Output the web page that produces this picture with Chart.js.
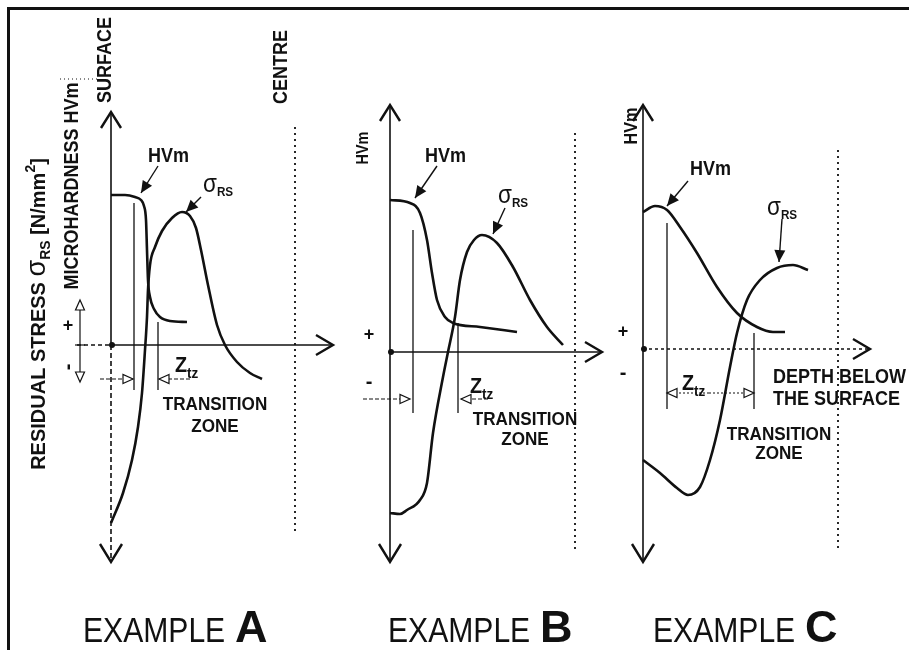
<!DOCTYPE html>
<html>
<head>
<meta charset="utf-8">
<title>Residual stress and microhardness below the surface</title>
<script src="https://cdn.jsdelivr.net/npm/chart.js@4.4.1/dist/chart.umd.min.js"></script>
<style>
    html, body { margin: 0; padding: 0; background: #fff; }
    #page { position: relative; width: 909px; height: 650px; overflow: hidden; background: #fff; }
    #frame { position: absolute; left: 7px; top: 7px; width: 920px; height: 660px;
             border-top: 3px solid #111; border-left: 3px solid #111; }
    canvas { position: absolute; left: 0; top: 0; }
</style>
</head>
<body>
<div id="page">
    <div id="frame"></div>
    <canvas id="chartA" width="909" height="650"></canvas>
    <canvas id="chartB" width="909" height="650"></canvas>
    <canvas id="chartC" width="909" height="650"></canvas>
</div>
<script>
// ── Data (arbitrary units: depth below the surface vs HVm / σRS) ──────────────
// Example A
const depthHvA = [0, 7, 12, 15, 16.5, 17.5, 18, 18.5, 19.5, 21.5, 24.5, 29.5, 38];
const hvA      = [75, 75, 74, 72.5, 69.5, 62.5, 47.5, 32.5, 24, 18, 14, 12, 11.5];
const depthRsA = [0, 6, 10.5, 13.5, 15.5, 17, 18, 18.5, 19.5, 22, 25.5, 30.5, 35.5, 39.5, 42.5, 45, 48.5, 53, 57, 63, 69.5, 75.5];
const rsA      = [-89, -74, -57.5, -41, -24, -2.5, 14, 27.5, 40, 49, 57, 63.5, 66.5, 64.5, 58.5, 47.5, 30, 10, 0, -8.5, -14, -17];

// Example B
const depthHvB = [0, 10, 15, 18.5, 21, 23.5, 27.5, 31.5, 45, 63.5];
const hvB      = [76, 74.5, 69.5, 56, 39.5, 26, 17.5, 14.5, 12.5, 10];
const depthRsB = [0, 5, 8.5, 15, 18.5, 21.5, 26.5, 29, 32.5, 35, 38.5, 42, 46, 53.5, 61.5, 70, 78.5, 86.5];
const rsB      = [-80.5, -81, -79, -74, -65.5, -40.5, -12.5, 0, 17.5, 36, 50, 56, 58.5, 54.5, 42.5, 26, 12.5, 3.5];

// Example C
const depthHvC = [0, 6, 12, 18.5, 27, 37, 47, 57, 65, 71];
const hvC      = [68.5, 71.5, 69.5, 61, 48, 31, 18, 11, 8.5, 8.5];
const depthRsC = [0, 8.5, 17, 22.5, 28.5, 33.5, 38.5, 43.5, 47, 52, 58.5, 67, 75, 82.5];
const rsC      = [-55.5, -62, -69.5, -73, -69, -55.5, -35.5, -9, 8, 24.5, 34.5, 40.5, 42, 39.5];

// transition zone limits and centre of the part (depth)
const zoneA = [11.5, 23.5];
const zoneB = [11.5, 34];
const zoneC = [12, 55.5];
const centreDepth = [92, 92.5, 97.5];

// ── Style ─────────────────────────────────────────────────────────────────────
const INK  = '#111';
const FONT = '"Liberation Sans", Arial, sans-serif';
const bold = n => `bold ${n}px ${FONT}`;
const reg  = n => `${n}px ${FONT}`;
const UP   = -Math.PI / 2;

// ── Panel layout (positions only) ─────────────────────────────────────────────
const panels = [
    {
        canvas: 'chartA', letter: 'A', captionX: 83,
        pad: { left: 111, top: 112, right: 576, bottom: 88 },
        x: [0, 111], y: [-108.5, 116.5],
        hv: [depthHvA, hvA], rs: [depthRsA, rsA], zone: zoneA, centre: centreDepth[0],
        axisLeft: -17, xDash: [], lowerDash: [5, 3],
        centreTop: 109, centreBottom: -95,
        markerTop: [71, 11.5], markerBottom: -22.5,
        zoneY: -17, zoneDash: [4, 2], zoneArrows: [{ from: -5.5, to: 11 }, { from: 39.5, to: 24 }],
        hvLabel: [18.5, 91.5], hvArrow: [23.5, 89.5, 15, 76],
        rsLabel: [46, 76.5], rsArrow: [45, 74, 37.5, 66.5],
        zLabel: [32, -13.5], zoneText: [52, -32.5, -43.5],
        signs: { x: -21.5, plus: 9.5, minus: -11, rotMinus: true, arrowX: -15.5, up: 22.5, down: -18.5 }
    },
    {
        canvas: 'chartB', letter: 'B', captionX: 388,
        pad: { left: 390, top: 105, right: 307, bottom: 88 },
        x: [0, 106], y: [-105, 123.5],
        hv: [depthHvB, hvB], rs: [depthRsB, rsB], zone: zoneB, centre: centreDepth[1],
        axisLeft: 0, xDash: [], lowerDash: [],
        centreTop: 109.5, centreBottom: -100.5,
        markerTop: [61, 14.5], markerBottom: -30.5,
        zoneY: -23.5, zoneDash: [4, 2], zoneArrows: [{ from: -13.5, to: 10 }, { from: 49, to: 35.5 }],
        hvLabel: [17.5, 95], hvArrow: [23.5, 93, 12.5, 77],
        rsLabel: [54, 74.5], rsArrow: [57.5, 72, 51.5, 59],
        zLabel: [40, -20.5], zoneText: [67.5, -36.5, -46.5],
        signs: { x: -10.5, plus: 8.5, minus: -15 },
        sideLabel: { text: 'HVm', x: 368, y: 148, size: 16 }
    },
    {
        canvas: 'chartC', letter: 'C', captionX: 653,
        pad: { left: 643, top: 105, right: 39, bottom: 88 },
        x: [0, 113.5], y: [-106.5, 122],
        hv: [depthHvC, hvC], rs: [depthRsC, rsC], zone: zoneC, centre: centreDepth[2],
        axisLeft: 0, xDash: [3, 3], lowerDash: [],
        centreTop: 99.5, centreBottom: -101.5,
        markerTop: [63, 8], markerBottom: -30,
        zoneY: -22, zoneDash: [2, 2], zoneArrows: [{ from: 33, to: 12 }, { from: 33, to: 55.5 }],
        hvLabel: [23.5, 87], hvArrow: [22.5, 84, 12, 71.5],
        rsLabel: [62, 67], rsArrow: [69.5, 65, 68, 43.5],
        zLabel: [19.5, -20.5], zoneText: [68, -45.5, -55],
        depthText: [65, -17, -28],
        signs: { x: -10, plus: 8.5, minus: -12 },
        sideLabel: { text: 'HVm', x: 637, y: 126, size: 18 }
    }
];
const panelById = {};
panels.forEach(p => { panelById[p.canvas] = p; });

// ── Drawing helpers ───────────────────────────────────────────────────────────
function line(ctx, x1, y1, x2, y2, w, dash) {
    ctx.save();
    ctx.lineWidth = w;
    ctx.setLineDash(dash || []);
    ctx.beginPath();
    ctx.moveTo(x1, y1);
    ctx.lineTo(x2, y2);
    ctx.stroke();
    ctx.restore();
}

// head with its tip at (x, y), pointing along ang
function head(ctx, x, y, ang, len, half, mode) {
    const bx = x - Math.cos(ang) * len, by = y - Math.sin(ang) * len;
    const nx = -Math.sin(ang) * half, ny = Math.cos(ang) * half;
    ctx.save();
    ctx.setLineDash([]);
    ctx.beginPath();
    ctx.moveTo(bx + nx, by + ny);
    ctx.lineTo(x, y);
    ctx.lineTo(bx - nx, by - ny);
    if (mode === 'chevron') {
        ctx.lineWidth = 2.4;
        ctx.lineJoin = 'miter';
        ctx.stroke();
    } else if (mode === 'fill') {
        ctx.closePath();
        ctx.fill();
    } else {
        ctx.closePath();
        ctx.lineWidth = 1.2;
        ctx.fillStyle = '#fff';
        ctx.fill();
        ctx.stroke();
    }
    ctx.restore();
}

// text made of runs: [text, font, dy]
function runs(ctx, parts, x, y, opt = {}) {
    ctx.save();
    ctx.translate(x, y);
    if (opt.rotate) ctx.rotate(opt.rotate);
    ctx.scale(opt.sx || 0.9, 1);
    ctx.textAlign = 'left';
    ctx.textBaseline = opt.baseline || 'alphabetic';
    let w = 0;
    parts.forEach(p => { ctx.font = p[1]; w += ctx.measureText(p[0]).width; });
    let cx = opt.align === 'center' ? -w / 2 : 0;
    parts.forEach(p => {
        ctx.font = p[1];
        ctx.fillText(p[0], cx, p[2] || 0);
        cx += ctx.measureText(p[0]).width;
    });
    ctx.restore();
}

// ── Sketch plugin: axes, guides, labels ───────────────────────────────────────
const sketch = {
    id: 'sketch',
    afterDatasetsDraw(chart) {
        const p = panelById[chart.canvas.id];
        const ctx = chart.ctx, area = chart.chartArea;
        const X = v => chart.scales.x.getPixelForValue(v);
        const Y = v => chart.scales.y.getPixelForValue(v);
        const x0 = X(0), y0 = Y(0);

        ctx.save();
        ctx.strokeStyle = INK;
        ctx.fillStyle = INK;

        // axes
        line(ctx, x0, area.top + 1, x0, y0, 1.6);
        line(ctx, x0, y0, x0, area.bottom - 1, 1.6, p.lowerDash);
        if (p.axisLeft < 0) line(ctx, X(p.axisLeft), y0, x0, y0, 1.5, [4, 3]);
        line(ctx, x0, y0, area.right - 1, y0, 1.5, p.xDash);
        head(ctx, x0, area.top, -Math.PI / 2, 16, 10, 'chevron');
        head(ctx, x0, area.bottom, Math.PI / 2, 18, 11, 'chevron');
        head(ctx, area.right, y0, 0, 17, 10, 'chevron');
        ctx.beginPath();
        ctx.arc(x0 + 1, y0, 3, 0, Math.PI * 2);
        ctx.fill();

        // centre of the part
        line(ctx, X(p.centre), Y(p.centreTop), X(p.centre), Y(p.centreBottom), 1.8, [2, 4]);

        // transition zone limits
        p.zone.forEach((z, i) => line(ctx, X(z), Y(p.markerTop[i]), X(z), Y(p.markerBottom), 1.3));
        const zy = Y(p.zoneY);
        p.zoneArrows.forEach(a => {
            line(ctx, X(a.from), zy, X(a.to), zy, 1.2, p.zoneDash);
            head(ctx, X(a.to), zy, a.to > a.from ? 0 : Math.PI, 10, 4.5, 'open');
        });

        // curve pointers
        [p.hvArrow, p.rsArrow].forEach(a => {
            line(ctx, X(a[0]), Y(a[1]), X(a[2]), Y(a[3]), 1.4);
            const ang = Math.atan2(Y(a[3]) - Y(a[1]), X(a[2]) - X(a[0]));
            head(ctx, X(a[2]), Y(a[3]), ang, 12, 5.5, 'fill');
        });

        // labels
        runs(ctx, [['HVm', bold(20)]], X(p.hvLabel[0]), Y(p.hvLabel[1]));
        runs(ctx, [['σ', reg(25)], ['RS', bold(13), 4]], X(p.rsLabel[0]), Y(p.rsLabel[1]));
        runs(ctx, [['Z', bold(22)], ['tz', bold(15), 6]], X(p.zLabel[0]), Y(p.zLabel[1]));
        runs(ctx, [['TRANSITION', bold(19)]], X(p.zoneText[0]), Y(p.zoneText[1]), { align: 'center' });
        runs(ctx, [['ZONE', bold(19)]], X(p.zoneText[0]), Y(p.zoneText[2]), { align: 'center' });
        if (p.depthText) {
            runs(ctx, [['DEPTH BELOW', bold(20)]], X(p.depthText[0]), Y(p.depthText[1]));
            runs(ctx, [['THE SURFACE', bold(20)]], X(p.depthText[0]), Y(p.depthText[2]));
        }

        // + / - signs of the stress axis
        const s = p.signs;
        runs(ctx, [['+', bold(18)]], X(s.x), Y(s.plus), { align: 'center', baseline: 'middle', sx: 1 });
        runs(ctx, [['-', bold(20)]], X(s.x), Y(s.minus),
             { align: 'center', baseline: 'middle', sx: 1, rotate: s.rotMinus ? UP : 0 });
        if (s.arrowX !== undefined) {
            line(ctx, X(s.arrowX), Y(s.up) + 8, X(s.arrowX), Y(s.down) - 8, 1.2);
            head(ctx, X(s.arrowX), Y(s.up), -Math.PI / 2, 10, 4.5, 'open');
            head(ctx, X(s.arrowX), Y(s.down), Math.PI / 2, 10, 4.5, 'open');
            line(ctx, X(s.arrowX) - 5, y0, X(s.arrowX) + 5, y0, 1.2);
        }

        // axis titles
        if (p.sideLabel) {
            const l = p.sideLabel;
            runs(ctx, [[l.text, bold(l.size)]], l.x, l.y, { rotate: UP, align: 'center' });
        }
        if (p.letter === 'A') {
            runs(ctx, [['SURFACE', bold(20)]], x0, 60, { rotate: UP, align: 'center' });
            runs(ctx, [['CENTRE', bold(20)]], 287, 67, { rotate: UP, align: 'center' });
            runs(ctx, [['MICROHARDNESS HVm', bold(20)]], 78, 186, { rotate: UP, align: 'center' });
            runs(ctx, [
                ['RESIDUAL STRESS ', bold(20)], ['σ', reg(27)], ['RS', bold(14), 5],
                [' [N/mm', bold(20)], ['2', bold(14), -10], [']', bold(20)]
            ], 45, 314, { rotate: UP, align: 'center', sx: 1 });
            line(ctx, 60, 79, 97, 79, 1, [1, 3]);
        }

        // caption
        runs(ctx, [['EXAMPLE', reg(35)]], p.captionX, 642, { sx: 0.86 });
        runs(ctx, [[p.letter, bold(45)]], p.captionX + 152, 642, { sx: 1 });

        ctx.restore();
    }
};

// ── Charts ────────────────────────────────────────────────────────────────────
function toPoints(xs, ys) {
    return xs.map((x, i) => ({ x, y: ys[i] }));
}

function buildChart(p) {
    const curve = (label, pts) => ({
        label, data: pts, showLine: true, clip: false,
        borderColor: INK, borderWidth: 2.6, pointRadius: 0,
        cubicInterpolationMode: 'monotone', fill: false
    });
    return new Chart(document.getElementById(p.canvas), {
        type: 'scatter',
        data: {
            datasets: [
                curve('HVm', toPoints(p.hv[0], p.hv[1])),
                curve('σRS', toPoints(p.rs[0], p.rs[1]))
            ]
        },
        options: {
            responsive: false,
            animation: false,
            events: [],
            layout: { padding: p.pad },
            scales: {
                x: { type: 'linear', min: p.x[0], max: p.x[1], display: false },
                y: { type: 'linear', min: p.y[0], max: p.y[1], display: false }
            },
            plugins: { legend: { display: false }, tooltip: { enabled: false } }
        },
        plugins: [sketch]
    });
}

panels.forEach(buildChart);
</script>
</body>
</html>
